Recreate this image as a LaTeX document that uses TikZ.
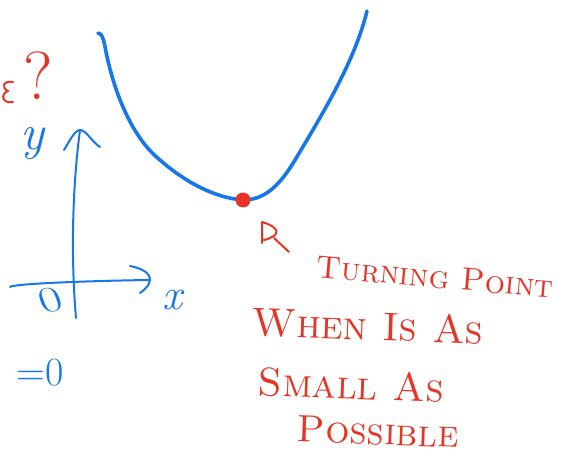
\documentclass[tikz,border=0pt]{standalone}
\usepackage{tikz}
\definecolor{penblue}{RGB}{22,118,236}
\definecolor{penred}{RGB}{232,52,36}
\tikzset{
  bluepen/.style={draw=penblue, line width=3.6pt, line cap=round, line join=round},
  thinblue/.style={draw=penblue, line width=2pt, line cap=round, line join=round},
  redpen/.style={draw=penred, line width=2pt, line cap=round, line join=round},
  bluetext/.style={text=penblue, inner sep=0pt},
  redtext/.style={text=penred, inner sep=0pt, font=\fontsize{32}{34}\selectfont\scshape},
}
\begin{document}
\begin{tikzpicture}[x=1pt,y=-1pt]
\useasboundingbox (0,0) rectangle (578,457);
% the curve and its lowest point
\draw[bluepen] (98,33) .. controls (102,33) and (104,40) .. (106,52)
  .. controls (116,100) and (135,140) .. (160,160)
  .. controls (185,182) and (215,198) .. (243,200)
  .. controls (265,200) and (280,185) .. (295,160)
  .. controls (325,110) and (355,60) .. (367,11);
\coordinate (TP) at (243,200);
\fill[penred] (TP) circle (7.5);
% axes
\coordinate (yfoot) at (76,318);
\coordinate (ytop) at (80,130);
\coordinate (xleft) at (10,287);
\coordinate (xright) at (149,280);
\draw[thinblue] (yfoot) .. controls (71,260) and (72,190) .. (ytop);
\draw[thinblue] (64,150) .. controls (70,140) and (75,130) .. (ytop) .. controls (86,130) and (92,142) .. (100,147);
\draw[thinblue] (xleft) .. controls (12,284) and (80,281) .. (xright);
\draw[thinblue] (130,266) .. controls (150,270) and (158,280) .. (140,293);
\node[bluetext, font=\fontsize{50}{50}\selectfont\itshape] (ylab) at (32,144) {y};
\node[bluetext, font=\fontsize{44}{44}\selectfont\itshape] (xlab) at (172,300) {x};
\node[bluetext, font=\fontsize{36}{36}\selectfont, xscale=1.4, rotate=15] (orig) at (50,300) {0};
\node[bluetext, font=\fontsize{40}{40}\selectfont] (zeroeq) at (40,373) {=0};
% notes in red
\node[redtext, font=\fontsize{68}{68}\selectfont] (qmark) at (38,76) {?};
\draw[redpen] (13,82) .. controls (3,80) and (1,88) .. (8,91) .. controls (0,94) and (2,104) .. (13,102);
\draw[redpen] (262,243) -- (262,222) .. controls (282,228) and (280,236) .. (264,240);
\draw[redpen] (274,238) -- (289,252);
\node[redtext, rotate=-5] (turning) at (435,277) {Turning Point};
\node[redtext, rotate=-2, font=\fontsize{40}{42}\selectfont\scshape] (whenis) at (368,326) {When Is As};
\node[redtext, rotate=-2, font=\fontsize{40}{42}\selectfont\scshape] (smallas) at (351,385) {Small As};
\node[redtext, rotate=-2, font=\fontsize{38}{40}\selectfont\scshape] (possible) at (378,432) {Possible};
\end{tikzpicture}
\end{document}
